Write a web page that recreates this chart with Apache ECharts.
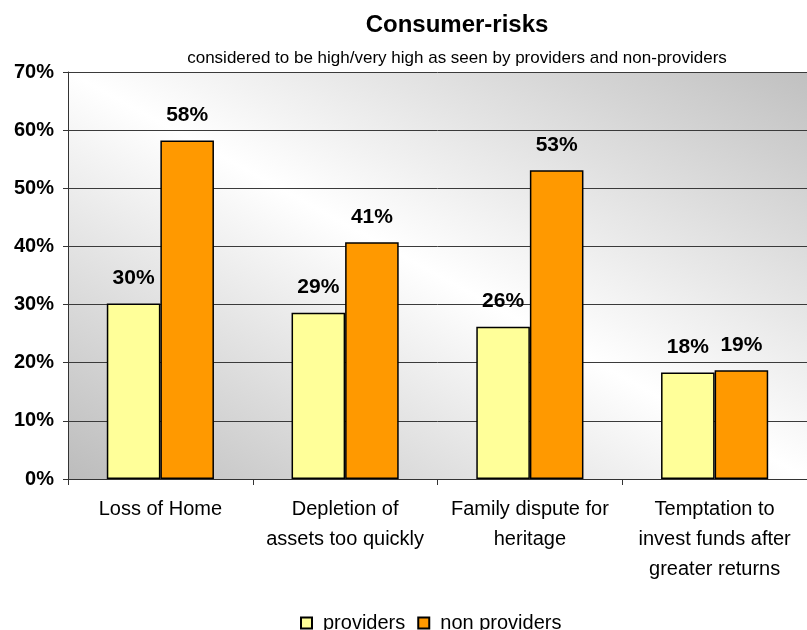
<!DOCTYPE html>
<html>
<head>
<meta charset="utf-8">
<script src="https://cdn.jsdelivr.net/npm/echarts@6/dist/echarts.min.js"></script>
<style>
html,body{margin:0;padding:0;background:#fff;}
#chart{width:807px;height:630px;}
</style>
</head>
<body>
<div id="chart"></div>
<script>
var categories = ["Loss of Home", "Depletion of\nassets too quickly", "Family dispute for\nheritage", "Temptation to\ninvest funds after\ngreater returns"];
var seriesNames = ["providers", "non providers"];
var providers = [30.2, 28.6, 26.2, 18.3];
var nonProviders = [58.2, 40.7, 53.1, 18.7];
var yTicks = [0, 10, 20, 30, 40, 50, 60, 70];

var FONT = "'Liberation Sans', Arial, sans-serif";
var chart = echarts.init(document.getElementById('chart'), null, {renderer: 'canvas'});

var labelOpt = {
  show: true,
  position: 'top',
  distance: 15,
  formatter: function (p) { return Math.round(p.value) + '%'; },
  fontFamily: FONT,
  fontSize: 21,
  fontWeight: 'bold',
  color: '#000'
};

chart.setOption({
  animation: false,
  backgroundColor: '#ffffff',
  title: {
    text: 'Consumer-risks',
    subtext: 'considered to be high/very high as seen by providers and non-providers',
    left: 452,
    textAlign: 'center',
    top: 8,
    itemGap: 13,
    textStyle: {fontFamily: FONT, fontSize: 24, fontWeight: 'bold', color: '#000'},
    subtextStyle: {fontFamily: FONT, fontSize: 17, color: '#000'}
  },
  legend: {
    data: seriesNames,
    left: 295,
    top: 608,
    itemWidth: 11,
    itemHeight: 11,
    itemGap: 12,
    icon: 'rect',
    textStyle: {fontFamily: FONT, fontSize: 20, color: '#000', padding: [0, 0, 0, 6]}
  },
  grid: {
    left: 68,
    right: -2,
    top: 72,
    bottom: 151,
    show: true,
    borderWidth: 0,
    backgroundColor: {
      type: 'linear',
      global: true,
      x: 266.5, y: 588.2, x2: 610.5, y2: -37.2,
      colorStops: [
        {offset: 0, color: '#bcbcbc'},
        {offset: 0.5, color: '#ffffff'},
        {offset: 1, color: '#c0c0c0'}
      ]
    }
  },
  xAxis: {
    type: 'category',
    data: categories,
    axisLine: {show: true, lineStyle: {color: '#333', width: 1}},
    axisTick: {show: true, length: 6, alignWithLabel: false, lineStyle: {color: '#333'}},
    axisLabel: {
      interval: 0,
      margin: 15,
      fontFamily: FONT,
      fontSize: 20,
      lineHeight: 30,
      color: '#000'
    },
    splitLine: {show: false}
  },
  yAxis: {
    type: 'value',
    min: yTicks[0],
    max: yTicks[yTicks.length - 1],
    interval: 10,
    axisLine: {show: true, lineStyle: {color: '#333', width: 1}},
    axisTick: {show: true, length: 5, lineStyle: {color: '#333'}},
    axisLabel: {
      margin: 14,
      formatter: '{value}%',
      fontFamily: FONT,
      fontSize: 20,
      fontWeight: 'bold',
      color: '#000'
    },
    splitLine: {show: true, lineStyle: {color: '#3a3a3a', width: 1}}
  },
  series: [
    {
      name: seriesNames[0],
      type: 'bar',
      data: providers,
      barGap: '0%',
      barCategoryGap: '42%',
      itemStyle: {color: '#FFFF99', borderColor: '#000', borderWidth: 1.5},
      label: labelOpt
    },
    {
      name: seriesNames[1],
      type: 'bar',
      data: nonProviders,
      barGap: '0%',
      barCategoryGap: '42%',
      itemStyle: {color: '#FF9900', borderColor: '#000', borderWidth: 1.5},
      label: labelOpt
    }
  ]
});
</script>
</body>
</html>
